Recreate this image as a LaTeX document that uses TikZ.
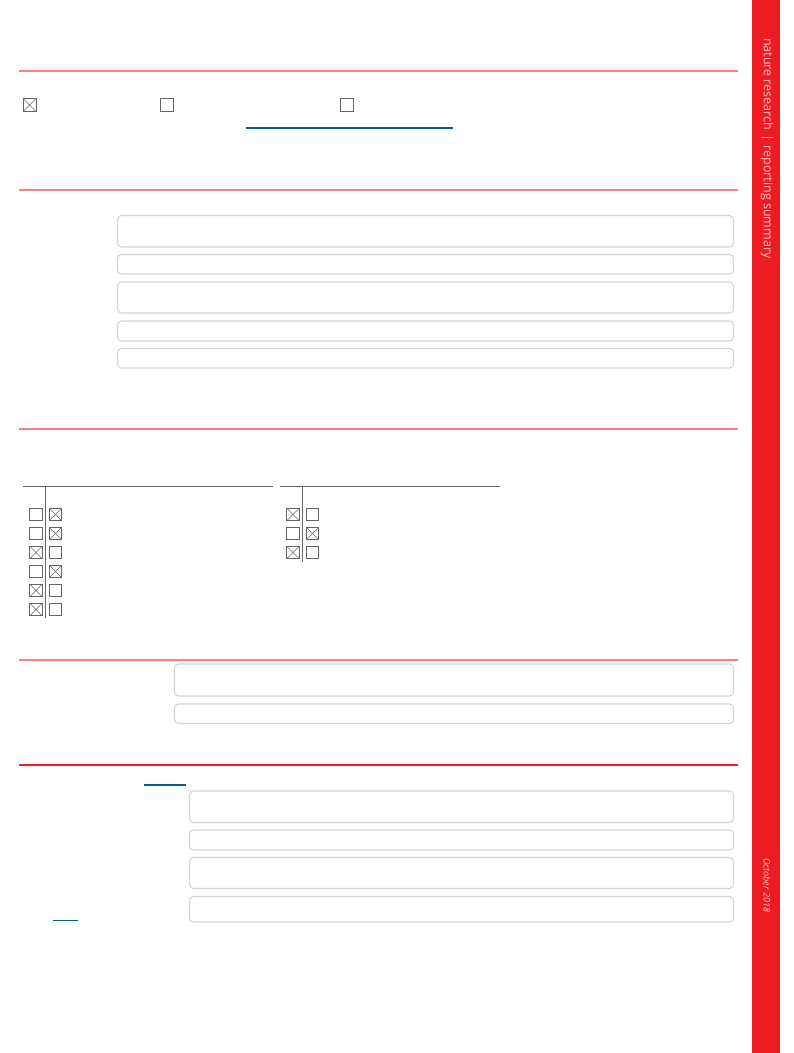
\documentclass[tikz,border=0pt]{standalone}
\usepackage{fontspec}
\setmainfont{Open Sans}
\definecolor{redbar}{RGB}{237,28,36}
\definecolor{pinkrule}{RGB}{242,130,134}
\definecolor{redrule}{RGB}{235,30,36}
\definecolor{linkblue}{RGB}{0,94,150}
\definecolor{boxgray}{RGB}{100,104,100}
\definecolor{fieldgray}{RGB}{212,212,212}
\definecolor{sidetextcol}{RGB}{250,195,195}
\tikzset{
  cb/.style={draw=boxgray, line width=0.7pt, minimum size=9.2pt, inner sep=0pt, outer sep=0pt},
  cbbig/.style={cb, minimum size=9.8pt},
  cbx/.style={cb, path picture={
      \draw[boxgray, line width=0.5pt] (path picture bounding box.north west) -- (path picture bounding box.south east)
        (path picture bounding box.north east) -- (path picture bounding box.south west);}},
  rulepink/.style={pinkrule, line width=0.9pt},
  rulered/.style={redrule, line width=0.8pt},
  field/.style={draw=fieldgray, line width=0.8pt, rounded corners=3pt},
  tabline/.style={boxgray, line width=0.7pt},
  link/.style={linkblue, line width=0.9pt},
  sidetext/.style={text=sidetextcol, inner sep=0pt, outer sep=0pt}
}
\begin{document}
\begin{tikzpicture}[x=0.75pt,y=-0.75pt]
\useasboundingbox (0,0) rectangle (793,1053);
% sidebar
\fill[redbar] (752,0) rectangle (780,1053);
\node[sidetext, rotate=-90, anchor=west, font=\fontsize{9.4pt}{11pt}\selectfont] (title) at (767,38)
  {nature research\,\,|\,\,reporting summary};
\node[sidetext, rotate=-90, anchor=west, font=\itshape\fontsize{6.8pt}{8pt}\selectfont] (date) at (767,858)
  {October 2018};
% section rules
\draw[rulepink] (19,71) -- (738,71);
\draw[rulepink] (19,190) -- (738,190);
\draw[rulepink] (19,429) -- (738,429);
\draw[rulepink] (19,660) -- (738,660);
\draw[rulered] (19,765) -- (738,765);
% section 1 checkboxes
\node[cbx, cbbig] (s1a) at (29.5,105) {};
\node[cbbig] (s1b) at (166.5,105) {};
\node[cbbig] (s1c) at (346.5,105) {};
\draw[link] (246,128) -- (453,128);
% section 2 fields
\draw[field] (117.5,215.5) rectangle (733.5,247);
\draw[field] (117.5,254.5) rectangle (733.5,274);
\draw[field] (117.5,282) rectangle (733.5,313);
\draw[field] (117.5,321) rectangle (733.5,341);
\draw[field] (117.5,348.5) rectangle (733.5,368);
% section 3 tables
\draw[tabline] (23,486) -- (273,486);
\draw[tabline] (45.5,486) -- (45.5,618);
\draw[tabline] (280,486) -- (500,486);
\draw[tabline] (302.5,486) -- (302.5,562);
\node[cb]  (l1a) at (36,514.5) {}; \node[cbx] (l1b) at (55.5,514.5) {};
\node[cb]  (l2a) at (36,533.5) {}; \node[cbx] (l2b) at (55.5,533.5) {};
\node[cbx] (l3a) at (36,552.5) {}; \node[cb]  (l3b) at (55.5,552.5) {};
\node[cb]  (l4a) at (36,571.5) {}; \node[cbx] (l4b) at (55.5,571.5) {};
\node[cbx] (l5a) at (36,590.5) {}; \node[cb]  (l5b) at (55.5,590.5) {};
\node[cbx] (l6a) at (36,609.5) {}; \node[cb]  (l6b) at (55.5,609.5) {};
\node[cbx] (r1a) at (293,514.5) {}; \node[cb]  (r1b) at (312.5,514.5) {};
\node[cb]  (r2a) at (293,533.5) {}; \node[cbx] (r2b) at (312.5,533.5) {};
\node[cbx] (r3a) at (293,552.5) {}; \node[cb]  (r3b) at (312.5,552.5) {};
% section 4 fields
\draw[field] (174.5,664) rectangle (733.5,696);
\draw[field] (174.5,704) rectangle (733.5,723.5);
% section 5
\draw[link] (144,785) -- (186,785);
\draw[field] (189.5,791) rectangle (733.5,822.5);
\draw[field] (189.5,830) rectangle (733.5,850);
\draw[field] (189.5,857.5) rectangle (733.5,888.5);
\draw[field] (189.5,896.5) rectangle (733.5,922);
\draw[link] (53,920.5) -- (78,920.5);
\end{tikzpicture}
\end{document}
